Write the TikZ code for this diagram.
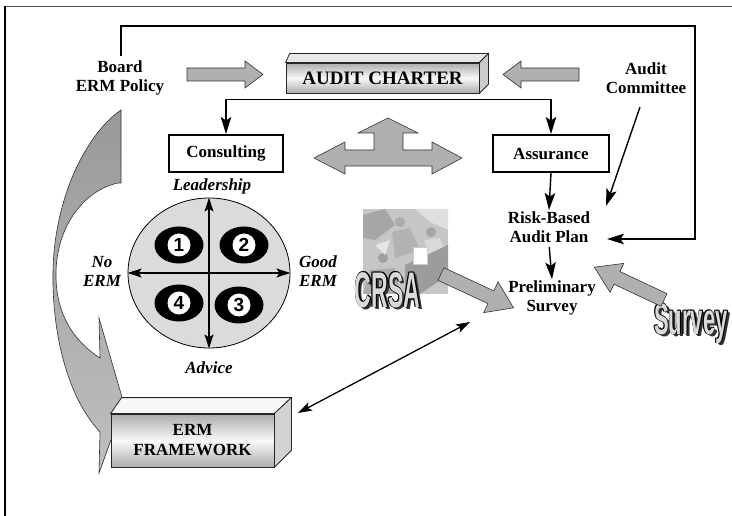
\documentclass[tikz,border=0pt]{standalone}
\usepackage{fontspec}
\setmainfont{Liberation Serif}
\newfontfamily\digitfont{Liberation Sans}
\usetikzlibrary{shapes.geometric,arrows.meta,calc}
\newcommand{\crsaword}{\scalebox{0.92}[2]{CRSA}}
\newcommand{\surveyword}{\scalebox{1}[2]{Survey}}
\begin{document}
\begin{tikzpicture}[x=1pt,y=-1pt,
  lbl/.style={font=\fontsize{17}{19.5}\selectfont\bfseries, align=center, inner sep=1pt},
  ital/.style={font=\fontsize{17}{19}\selectfont\bfseries\itshape, align=center, inner sep=1pt},
  arr/.style={line width=1.4pt, -{Stealth[length=17pt,width=10.5pt,inset=3.5pt]}},
  dblarr/.style={line width=1.3pt, {Stealth[length=14pt,width=9pt,inset=3pt]}-{Stealth[length=14pt,width=9pt,inset=3pt]}},
  blockarrow/.style={fill=gray!62, draw=black!80, line width=0.6pt},
  flatbox/.style={draw, line width=2pt, minimum width=114pt, minimum height=37pt, fill=white,
     font=\fontsize{17}{19.5}\selectfont\bfseries, inner sep=1pt},
  threed/.style={draw=black!85, line width=0.8pt, top color=gray!65, bottom color=gray!65, middle color=gray!5,
     font=\fontsize{17}{20}\selectfont\bfseries, align=center, inner sep=1pt},
  blob/.style={ellipse, fill=black, minimum width=49pt, minimum height=37pt, inner sep=0pt},
  disc/.style={circle, fill=white, minimum size=23pt, inner sep=0pt, font=\fontsize{19}{19}\digitfont\bfseries},
  wordart/.style={font=\fontsize{25}{25}\digitfont\bfseries, inner sep=0pt},
  wordartb/.style={font=\fontsize{22}{22}\digitfont\bfseries, inner sep=0pt}
]
\useasboundingbox (0,0) rectangle (732,516);
\fill[white] (0,0) rectangle (732,516);
% frame
\draw[line width=1.6pt, black!70] (4,6.5) -- (732,6.5);
\draw[line width=1.4pt] (5,6) -- (5,516);

% left curved ribbon
\draw[top color=gray!80, bottom color=gray!50, draw=black!80, line width=0.6pt]
  (121,110) -- (121,183) -- (118,183)
  .. controls (85,190) and (57,225) .. (56,272)
  .. controls (55,315) and (75,342) .. (100,358)
  -- (99,318) -- (124,404) -- (124,438) -- (111,440) -- (99,473) -- (100,432)
  .. controls (70,400) and (52,340) .. (53,272)
  .. controls (54,200) and (85,135) .. (121,110) -- cycle;

% text labels
\node[lbl] (board) at (120,78) {Board\\ERM Policy};
\node[lbl] (committee) at (646,78) {Audit\\Committee};

% AUDIT CHARTER 3D box
\node[threed, font=\fontsize{19}{22}\selectfont\bfseries, minimum width=193pt, minimum height=30pt] (charter) at (382.5,78) {AUDIT CHARTER};
\draw[fill=gray!18, draw=black!85, line width=0.8pt] (charter.north west) -- ++(4,-9) -- ($(charter.north east)+(9,-9)$) -- (charter.north east) -- cycle;
\draw[fill=gray!40, draw=black!85, line width=0.8pt] (charter.north east) -- ++(9,-9) -- ($(charter.south east)+(9,-9)$) -- (charter.south east) -- cycle;

% gray block arrows to charter
\draw[blockarrow] (187,68) -- (245,68) -- (245,61) -- (263,74.5) -- (245,88) -- (245,81) -- (187,81) -- cycle;
\draw[blockarrow] (579,68) -- (521,68) -- (521,61) -- (503,74.5) -- (521,88) -- (521,81) -- (579,81) -- cycle;

% consulting / assurance
\node[flatbox] (cons) at (226,153.5) {Consulting};
\node[flatbox, minimum width=116pt] (assur) at (551,153.5) {Assurance};
\coordinate (split) at ($(charter.south)+(0,6)$);
\draw[arr] (split) -| (cons.north);
\draw[arr] (split) -| (assur.north);

% three-way arrow
\draw[blockarrow] (314,158) -- (345,142) -- (345,150) -- (374,150) -- (374,133) -- (358,133) -- (388,118)
  -- (418,133) -- (403,133) -- (403,150) -- (432,150) -- (432,142) -- (462,158) -- (432,174)
  -- (432,166) -- (345,166) -- (345,174) -- cycle;

% quadrant circle
\node[draw, ellipse, fill=gray!28, minimum width=162pt, minimum height=150pt, inner sep=0pt, line width=0.8pt] (quad) at (209,273) {};
\node[blob] (q1) at (179,245) {};
\node[blob] (q2) at (244,245) {};
\node[blob] (q3) at (239,305) {};
\node[blob] (q4) at (179,303) {};
\node[disc] (d1) at (q1) {1};
\node[disc] (d2) at (q2) {2};
\node[disc] (d3) at (q3) {3};
\node[disc] (d4) at (q4) {4};
\draw[dblarr] (quad.north) -- (quad.south);
\draw[dblarr] (quad.west) -- (quad.east);
\node[ital] (lead) at (212,186) {Leadership};
\node[ital] (adv) at (209,368) {Advice};
\node[ital] (noerm) at (102,271) {No\\ERM};
\node[ital] (gooderm) at (318,271) {Good\\ERM};

% right column
\node[lbl] (risk) at (549,227) {Risk-Based\\Audit Plan};
\node[lbl] (prelim) at (552,298) {Preliminary\\Survey};
\draw[arr] (assur.south) -- (risk.north);
\draw[arr, shorten <=3pt] (risk.south) -- (prelim.north);
\coordinate (risktip) at (607,239);
\draw[arr] ($(board.north)+(1,-3)$) |- (695,26) |- (risktip);
\coordinate (comstart) at (640,107);
\coordinate (comtip) at (606,206);
\draw[arr] (comstart) -- (comtip);

% CRSA clip art
\node[fill=gray!45, minimum size=85pt, inner sep=0pt] (crsa) at (405.5,251.5) {};
\begin{scope}
\clip (363,209) rectangle (448,294);
\fill[gray!70] (363,215) -- (385,209) -- (395,225) -- (375,240) -- (363,238) -- cycle;
\fill[gray!25] (415,209) -- (448,209) -- (448,230) -- (430,222) -- cycle;
\fill[gray!60] (392,232) -- (410,228) -- (420,250) -- (395,258) -- cycle;
\fill[gray!30] (425,240) -- (440,238) -- (448,260) -- (430,270) -- cycle;
\fill[gray!65] (370,270) -- (395,268) -- (400,294) -- (363,294) -- cycle;
\fill[gray!78] (405,265) -- (448,245) -- (448,275) -- (420,294) -- (405,294) -- cycle;
\fill[gray!65] (400,222) circle (5);
\fill[gray!70] (431,232) circle (5);
\fill[gray!75] (383,258) circle (5);
\fill[gray!20] (375,245) -- (390,240) -- (385,255) -- cycle;
\end{scope}
\draw[fill=white, draw=gray!40] (413,247) rectangle (427,264);
\coordinate (crsac) at (387.5,290);
\foreach \dx/\dy [count=\i] in {2.8/2.2,1.6/1.2}
  \node[wordart, text=black!80] (crsash\i) at ($(crsac)+(\dx,\dy)$) {\crsaword};
\foreach \dx/\dy [count=\i] in {-0.6/-0.6,0.6/0.6,-0.6/0.6,0.6/-0.6}
  \node[wordart, text=black] (crsaol\i) at ($(crsac)+(\dx,\dy)$) {\crsaword};
\node[wordart, text=gray!30] (crsatext) at (crsac) {\crsaword};

% CRSA arrow
\begin{scope}[shift={(441,274)}, rotate=-25]
\draw[blockarrow] (0,-7) -- (55,-7) -- (55,-17) -- (80,0) -- (55,17) -- (55,7) -- (0,7) -- cycle;
\end{scope}

% Survey word art
\coordinate (survc) at (691,323.5);
\foreach \dx/\dy [count=\i] in {2.8/2.2,1.6/1.2}
  \node[wordartb, text=black!80] (survsh\i) at ($(survc)+(\dx,\dy)$) {\surveyword};
\foreach \dx/\dy [count=\i] in {-0.6/-0.6,0.6/0.6,-0.6/0.6,0.6/-0.6}
  \node[wordartb, text=black] (survol\i) at ($(survc)+(\dx,\dy)$) {\surveyword};
\node[wordartb, text=gray!30] (survtext) at (survc) {\surveyword};

% Survey arrow
\begin{scope}[shift={(664,300)}, rotate=154.8]
\draw[blockarrow] (0,-7) -- (52,-7) -- (52,-16) -- (77,0) -- (52,16) -- (52,7) -- (0,7) -- cycle;
\end{scope}

% ERM framework 3D box
\node[threed, minimum width=163pt, minimum height=53pt] (erm) at (192.5,440.5) {ERM\\FRAMEWORK};
\draw[fill=gray!6, draw=black!85, line width=0.8pt] (erm.north west) -- ++(11,-16) -- ($(erm.north east)+(17,-16)$) -- (erm.north east) -- cycle;
\draw[fill=gray!35, draw=black!85, line width=0.8pt] (erm.north east) -- ++(17,-16) -- ($(erm.south east)+(17,-17)$) -- (erm.south east) -- cycle;

% ERM <-> preliminary survey
\coordinate (ermtip) at (298,413);
\coordinate (preltip) at (470,322);
\draw[dblarr] (ermtip) -- (preltip);
\end{tikzpicture}
\end{document}
